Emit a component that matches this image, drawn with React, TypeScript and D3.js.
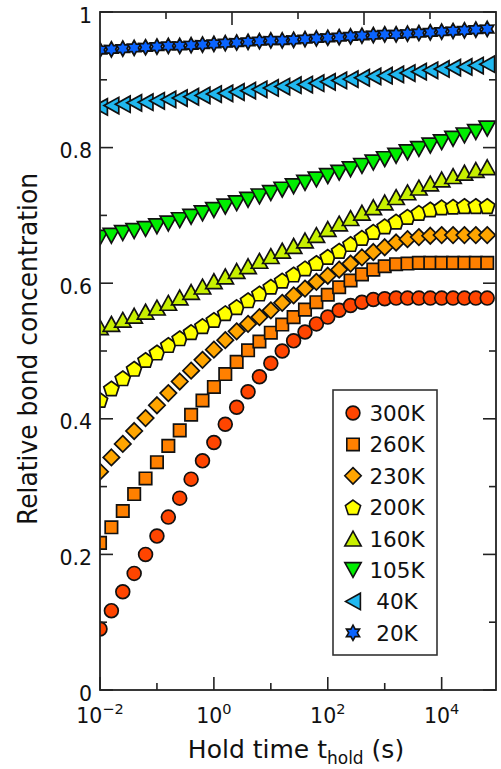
import React from 'react';
import * as d3 from 'd3';

// exponent of hold time (s): t = 10^exp
const holdExps = [-2, -1.8, -1.6, -1.4, -1.2, -1, -0.8, -0.6, -0.4, -0.2, 0, 0.2, 0.4, 0.6, 0.8, 1, 1.2, 1.4, 1.6, 1.8, 2, 2.2, 2.4, 2.6, 2.8, 3, 3.2, 3.4, 3.6, 3.8, 4, 4.2, 4.4, 4.6, 4.8];

const s300K = [0.090, 0.117, 0.145, 0.172, 0.200, 0.227, 0.255, 0.283, 0.311, 0.338, 0.365, 0.392, 0.417, 0.440, 0.462, 0.482, 0.500, 0.515, 0.528, 0.540, 0.550, 0.560, 0.567, 0.572, 0.576, 0.577, 0.578, 0.578, 0.578, 0.578, 0.578, 0.578, 0.578, 0.578, 0.578];
const s260K = [0.217, 0.240, 0.264, 0.289, 0.312, 0.336, 0.360, 0.383, 0.406, 0.427, 0.447, 0.466, 0.484, 0.501, 0.514, 0.527, 0.539, 0.550, 0.561, 0.572, 0.583, 0.594, 0.604, 0.613, 0.620, 0.625, 0.628, 0.629, 0.630, 0.630, 0.630, 0.630, 0.630, 0.630, 0.630];
const s230K = [0.322, 0.343, 0.363, 0.382, 0.401, 0.420, 0.438, 0.455, 0.471, 0.487, 0.502, 0.516, 0.529, 0.540, 0.550, 0.560, 0.571, 0.582, 0.592, 0.602, 0.611, 0.620, 0.629, 0.638, 0.646, 0.653, 0.660, 0.665, 0.668, 0.670, 0.671, 0.671, 0.671, 0.671, 0.671];
const s200K = [0.428, 0.445, 0.460, 0.474, 0.487, 0.498, 0.509, 0.519, 0.528, 0.537, 0.546, 0.556, 0.565, 0.575, 0.585, 0.595, 0.604, 0.613, 0.622, 0.630, 0.639, 0.648, 0.658, 0.667, 0.676, 0.684, 0.691, 0.698, 0.704, 0.709, 0.712, 0.713, 0.714, 0.714, 0.714];
const s160K = [0.535, 0.540, 0.546, 0.552, 0.558, 0.564, 0.571, 0.579, 0.587, 0.595, 0.603, 0.610, 0.618, 0.625, 0.633, 0.640, 0.648, 0.655, 0.663, 0.671, 0.680, 0.688, 0.696, 0.704, 0.712, 0.719, 0.727, 0.734, 0.741, 0.747, 0.753, 0.758, 0.763, 0.767, 0.771];
const s105K = [0.667, 0.670, 0.674, 0.677, 0.680, 0.684, 0.688, 0.693, 0.698, 0.703, 0.708, 0.713, 0.718, 0.723, 0.728, 0.733, 0.738, 0.743, 0.748, 0.753, 0.758, 0.763, 0.768, 0.773, 0.778, 0.783, 0.788, 0.793, 0.798, 0.803, 0.808, 0.813, 0.818, 0.823, 0.828];
const s40K = [0.860, 0.862, 0.864, 0.866, 0.867, 0.869, 0.871, 0.873, 0.875, 0.877, 0.879, 0.880, 0.882, 0.884, 0.886, 0.888, 0.890, 0.892, 0.893, 0.895, 0.897, 0.899, 0.901, 0.903, 0.905, 0.906, 0.908, 0.910, 0.912, 0.914, 0.916, 0.918, 0.919, 0.921, 0.923];
const s20K = [0.944, 0.945, 0.946, 0.947, 0.948, 0.949, 0.950, 0.950, 0.951, 0.952, 0.953, 0.954, 0.955, 0.956, 0.957, 0.958, 0.958, 0.959, 0.960, 0.961, 0.962, 0.963, 0.964, 0.965, 0.966, 0.967, 0.967, 0.968, 0.969, 0.970, 0.971, 0.972, 0.973, 0.974, 0.975];

const seriesLabels = ['300K', '260K', '230K', '200K', '160K', '105K', '40K', '20K'];
const seriesValues = [s300K, s260K, s230K, s200K, s160K, s105K, s40K, s20K];
const seriesColors = ['#FF4500', '#FF8000', '#FFA500', '#FFFF00', '#C8F000', '#00EE00', '#20B8F0', '#0A64FF'];
const seriesShapes = ['circle', 'square', 'diamond', 'pentagon', 'triUp', 'triDown', 'triLeft', 'star'];

const yTickValues = [0, 0.1, 0.2, 0.3, 0.4, 0.5, 0.6, 0.7, 0.8, 0.9, 1];
const yLabelValues = [0, 0.2, 0.4, 0.6, 0.8, 1];
const yLabelTexts = ['0', '0.2', '0.4', '0.6', '0.8', '1'];
const xTickExps = [-2, -1, 0, 1, 2, 3, 4];
const xLabelExps = [-2, 0, 2, 4];
const xLabelTexts = ['\u22122', '0', '2', '4'];
const topTickSteps = [1, 2, 3, 4, 5];

const W = 501, H = 769;
const M = { left: 100, right: 496, top: 12, bottom: 690 };
const FONT = '"DejaVu Sans", Verdana, sans-serif';

function poly(pts: [number, number][]) {
  return 'M' + pts.map(p => p[0].toFixed(2) + ',' + p[1].toFixed(2)).join('L') + 'Z';
}

function shapePath(shape: string, s = 1): string {
  switch (shape) {
    case 'circle':
      return d3.symbol().type(d3.symbolCircle).size(Math.PI * 6.9 * 6.9 * s * s)() as string;
    case 'square': {
      const h = 6.2 * s;
      return poly([[-h, -h], [h, -h], [h, h], [-h, h]]);
    }
    case 'diamond': {
      const h = 8.2 * s;
      return poly([[0, -h], [h, 0], [0, h], [-h, 0]]);
    }
    case 'pentagon': {
      const r = 8.0 * s;
      const pts: [number, number][] = [];
      for (let i = 0; i < 5; i++) {
        const a = -Math.PI / 2 + (i * 2 * Math.PI) / 5;
        pts.push([r * Math.cos(a), r * Math.sin(a) + 0.9 * s]);
      }
      return poly(pts);
    }
    case 'triUp': {
      const w = 8.2 * s, h = 7.4 * s;
      return poly([[0, -h], [w, h], [-w, h]]);
    }
    case 'triDown': {
      const w = 8.2 * s, h = 7.4 * s;
      return poly([[0, h], [w, -h], [-w, -h]]);
    }
    case 'triLeft': {
      const w = 7.4 * s, h = 8.2 * s;
      return poly([[-w, 0], [w, -h], [w, h]]);
    }
    case 'star': {
      const ro = 7.6 * s, ri = 4.3 * s;
      const pts: [number, number][] = [];
      for (let i = 0; i < 12; i++) {
        const r = i % 2 === 0 ? ro : ri;
        const a = -Math.PI / 2 + (i * Math.PI) / 6;
        pts.push([r * Math.cos(a), r * Math.sin(a)]);
      }
      return poly(pts);
    }
  }
  return '';
}

export default function App() {
  const x = d3.scaleLog().domain([1e-2, 9e4]).range([M.left, M.right]);
  const y = d3.scaleLinear().domain([0, 1]).range([M.bottom, M.top]);
  const topScale = d3.scaleLinear().domain([0, 6]).range([M.left, M.right]);
  const axisColor = '#222';
  const legendRows = seriesLabels.map((_, i) => 413 + i * 31.4);

  return (
    <svg width={W} height={H} style={{ position: 'absolute', left: 0, top: 0, background: '#fff' }}>
      <defs>
        <clipPath id="plotClip">
          <rect x={M.left} y={M.top} width={M.right - M.left} height={M.bottom - M.top} />
        </clipPath>
      </defs>
      <rect x={0} y={0} width={W} height={H} fill="#fff" />

      {/* data */}
      <g clipPath="url(#plotClip)">
        {seriesValues.map((vals, si) => (
          <g key={si}>
            {vals.map((v, i) => (
              <path
                key={i}
                d={shapePath(seriesShapes[si])}
                transform={`translate(${x(Math.pow(10, holdExps[i]))},${y(v)})`}
                fill={seriesColors[si]}
                stroke="#111"
                strokeWidth={1.7}
                strokeLinejoin="miter"
              />
            ))}
          </g>
        ))}
      </g>

      {/* frame */}
      <rect x={M.left} y={M.top} width={M.right - M.left} height={M.bottom - M.top} fill="none" stroke={axisColor} strokeWidth={1.8} />

      {/* y ticks left & right */}
      {yTickValues.map((v, i) => {
        const len = i % 2 === 0 ? 13 : 7;
        const yy = y(v);
        return (
          <g key={'yt' + i}>
            <line x1={M.left} x2={M.left + len} y1={yy} y2={yy} stroke={axisColor} strokeWidth={1.6} />
            <line x1={M.right} x2={M.right - len} y1={yy} y2={yy} stroke={axisColor} strokeWidth={1.6} />
          </g>
        );
      })}
      {yLabelValues.map((v, i) => (
        <text key={'yl' + i} x={92} y={y(v) + 10.5} textAnchor="end" fontFamily={FONT} fontSize={20.5} fill="#111">
          {yLabelTexts[i]}
        </text>
      ))}

      {/* x ticks bottom */}
      {xTickExps.map((e, i) => {
        const len = e % 2 === 0 ? 13 : 7;
        const xx = x(Math.pow(10, e));
        return <line key={'xt' + i} x1={xx} x2={xx} y1={M.bottom} y2={M.bottom - len} stroke={axisColor} strokeWidth={1.6} />;
      })}
      {/* top ticks */}
      {topTickSteps.map((k, i) => {
        const len = k % 2 === 0 ? 13 : 7;
        const xx = topScale(k);
        return <line key={'tt' + i} x1={xx} x2={xx} y1={M.top} y2={M.top + len} stroke={axisColor} strokeWidth={1.6} />;
      })}
      {xLabelExps.map((e, i) => (
        <text key={'xl' + i} x={x(Math.pow(10, e))} y={723} textAnchor="middle" fontFamily={FONT} fontSize={20.5} fill="#111">
          10<tspan dy={-9} fontSize={14.5}>{xLabelTexts[i]}</tspan>
        </text>
      ))}

      {/* axis titles */}
      <text x={296} y={758} textAnchor="middle" fontFamily={FONT} fontSize={25} fill="#111">
        Hold time t<tspan dy={6} fontSize={17}>hold</tspan><tspan dy={-6}> (s)</tspan>
      </text>
      <text
        transform="translate(37,349) rotate(-90)"
        textAnchor="middle"
        fontFamily={FONT}
        fontSize={26}
        fill="#111"
        textLength={352}
        lengthAdjust="spacingAndGlyphs"
      >
        Relative bond concentration
      </text>

      {/* legend */}
      <rect x={333} y={390} width={104} height={265} fill="#fff" stroke="#333" strokeWidth={1.6} />
      {seriesLabels.map((lab, i) => (
        <g key={'lg' + i}>
          <path
            d={shapePath(seriesShapes[i], 1.0)}
            transform={`translate(353,${legendRows[i]})`}
            fill={seriesColors[i]}
            stroke="#111"
            strokeWidth={1.6}
          />
          <text x={397} y={legendRows[i] + 8} textAnchor="middle" fontFamily={FONT} fontSize={21.5} fill="#111">
            {lab}
          </text>
        </g>
      ))}
    </svg>
  );
}
